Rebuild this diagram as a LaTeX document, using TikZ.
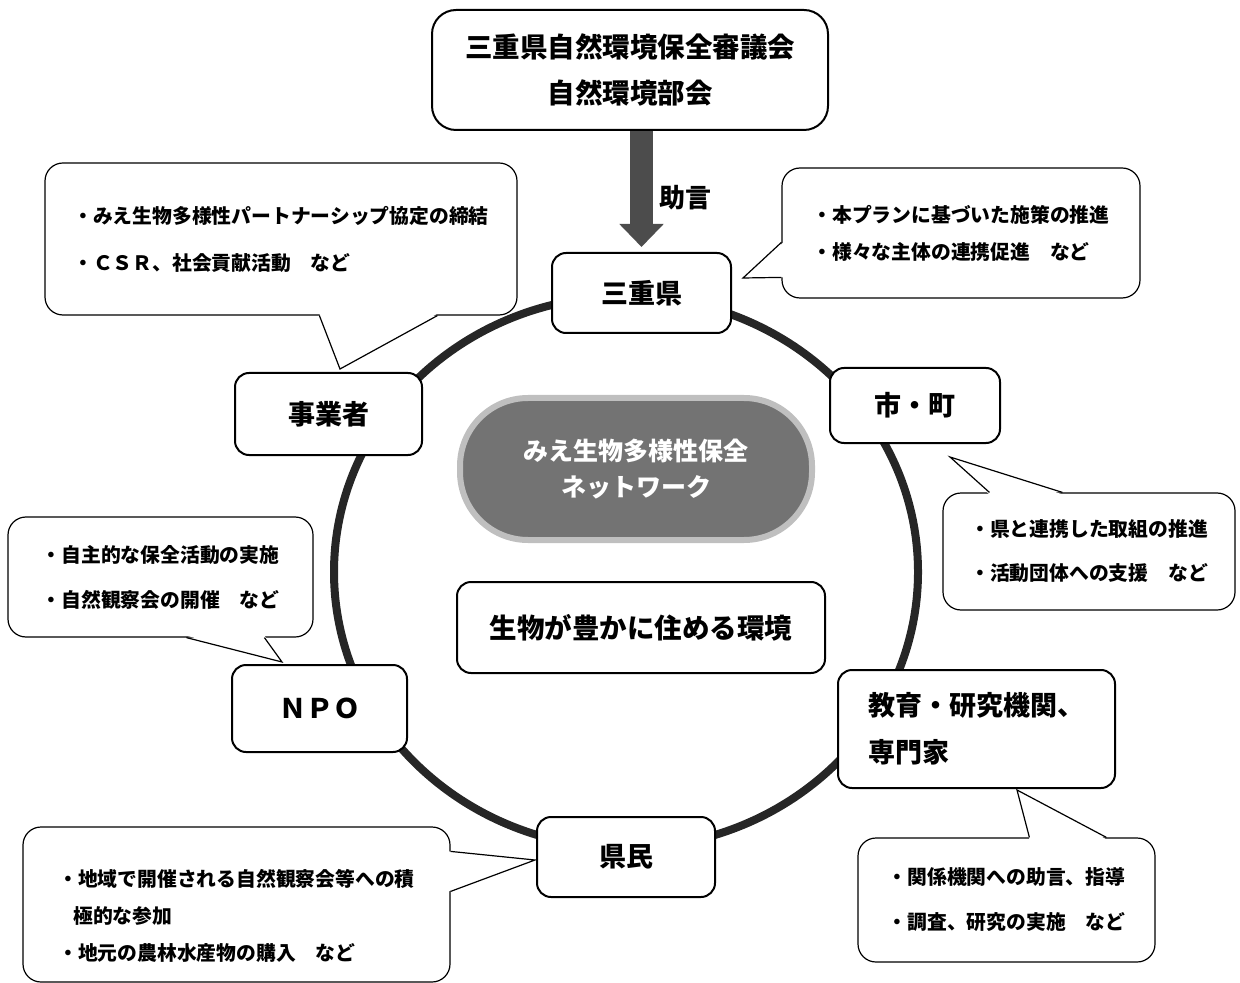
\documentclass[tikz,border=0pt]{standalone}
\usepackage{fontspec}
\setmainfont{Noto Sans CJK JP}
\usetikzlibrary{arrows.meta, calc}

\begin{document}
\begin{tikzpicture}[x=0.5pt, y=-0.5pt,
    box/.style={draw, line width=1pt, rounded corners=7pt, fill=white, align=center,
      font=\bfseries\fontsize{13.5}{23}\selectfont},
    bubble/.style={draw, line width=0.6pt, rounded corners=9pt, fill=white, align=left,
      font=\bfseries\fontsize{9.9}{#1}\selectfont},
    bubble/.default=22pt,
    ring/.style={draw=black!85, line width=4pt},
    tail/.style={line width=0.6pt}]

    \useasboundingbox (0,0) rectangle (1240,983);

    \draw[ring] (626,572) ellipse [x radius=146pt, y radius=138pt];

    \node[box, rounded corners=12pt, minimum width=198pt, minimum height=60pt,
      font=\bfseries\fontsize{13.75}{23}\selectfont] (council) at (630,70)
      {三重県自然環境保全審議会\\自然環境部会};

    \node[box, minimum width=89.5pt, minimum height=40pt] (ken) at (641.5,293) {三重県};
    \node[box, minimum width=93.5pt, minimum height=41pt] (jigyo) at (328.5,414) {事業者};
    \node[box, minimum width=87.5pt, minimum height=43.5pt] (npo) at (319.5,708.5) {ＮＰＯ};
    \node[box, minimum width=85pt, minimum height=37.5pt] (shicho) at (915,405.5) {市・町};
    \node[box, align=left, minimum width=138.5pt, minimum height=59pt,
      font=\bfseries\fontsize{13.5}{23.5}\selectfont] (kyoiku) at (976.5,729)
      {教育・研究機関、\\専門家};
    \node[box, minimum width=89pt, minimum height=40pt] (kenmin) at (626,857) {県民};

    \node[draw=black!25, line width=3pt, fill=black!55, rounded corners=34pt,
      minimum width=176pt, minimum height=71pt, text=white, align=center,
      font=\bfseries\fontsize{12.5}{18}\selectfont] (network) at (636,469)
      {みえ生物多様性保全\\ネットワーク};
    \node[box, minimum width=184pt, minimum height=45.5pt,
      font=\bfseries\fontsize{13.75}{16}\selectfont] (kankyo) at (641,627.5)
      {生物が豊かに住める環境};

    \draw[black!70, line width=11.5pt, -{Triangle[width=21.5pt, length=11.5pt]},
      shorten >=2.5pt] (council.south -| ken.north) -- (ken.north);
    \node[anchor=west, font=\bfseries\fontsize{13}{13}\selectfont] (advice) at (652,198) {助言};

    \node[bubble=23.5pt, minimum width=236pt, minimum height=76pt] (bubA) at (281,239)
      {・みえ生物多様性パートナーシップ協定の締結\\・ＣＳＲ、社会貢献活動　など};
    \node[bubble=18.5pt, minimum width=179pt, minimum height=65pt] (bubB) at (961,233)
      {・本プランに基づいた施策の推進\\・様々な主体の連携促進　など};
    \node[bubble, minimum width=146pt, minimum height=58.5pt] (bubC) at (1089,551.5)
      {・県と連携した取組の推進\\・活動団体への支援　など};
    \node[bubble=22.5pt, minimum width=152.5pt, minimum height=60pt] (bubD) at (160.5,577)
      {・自主的な保全活動の実施\\・自然観察会の開催　など};
    \node[bubble=18.5pt, minimum width=213.5pt, minimum height=77.5pt] (bubE) at (236.5,904.5)
      {\rule{0pt}{20pt}・地域で開催される自然観察会等への積\\\hspace*{7.5pt}極的な参加\\・地元の農林水産物の購入　など};
    \node[bubble=22.5pt, minimum width=148.5pt, minimum height=62pt] (bubF) at (1006.5,900)
      {・関係機関への助言、指導\\・調査、研究の実施　など};

    \coordinate (tipA) at (340,369);
    \coordinate (tipB) at (743,278);
    \coordinate (tipC) at (950,457);
    \coordinate (tipD) at (282,662);
    \coordinate (tipE) at (535,860);
    \coordinate (tipF) at (1017,790);

    \fill[white] ($(bubA.south west)+(275,-2)$) -- (tipA) -- ($(bubA.south west)+(393,-2)$) -- cycle;
    \draw[tail] ($(bubA.south west)+(275,0)$) -- (tipA) -- ($(bubA.south west)+(393,0)$);

    \fill[white] ($(bubB.north west)+(2,75)$) -- (tipB) -- ($(bubB.north west)+(2,110)$) -- cycle;
    \draw[tail] ($(bubB.north west)+(0,75)$) -- (tipB) -- ($(bubB.north west)+(0,110)$);

    \fill[white] ($(bubC.north west)+(47,2)$) -- (tipC) -- ($(bubC.north west)+(120,2)$) -- cycle;
    \draw[tail] ($(bubC.north west)+(47,0)$) -- (tipC) -- ($(bubC.north west)+(120,0)$);

    \fill[white] ($(bubD.south west)+(179,-2)$) -- (tipD) -- ($(bubD.south west)+(257,-2)$) -- cycle;
    \draw[tail] ($(bubD.south west)+(179,0)$) -- (tipD) -- ($(bubD.south west)+(257,0)$);

    \fill[white] ($(bubE.north east)+(-2,25)$) -- (tipE) -- ($(bubE.north east)+(-2,65)$) -- cycle;
    \draw[tail] ($(bubE.north east)+(0,25)$) -- (tipE) -- ($(bubE.north east)+(0,65)$);

    \fill[white] ($(bubF.north west)+(172,2)$) -- (tipF) -- ($(bubF.north west)+(249,2)$) -- cycle;
    \draw[tail] ($(bubF.north west)+(172,0)$) -- (tipF) -- ($(bubF.north west)+(249,0)$);

\end{tikzpicture}
\end{document}
